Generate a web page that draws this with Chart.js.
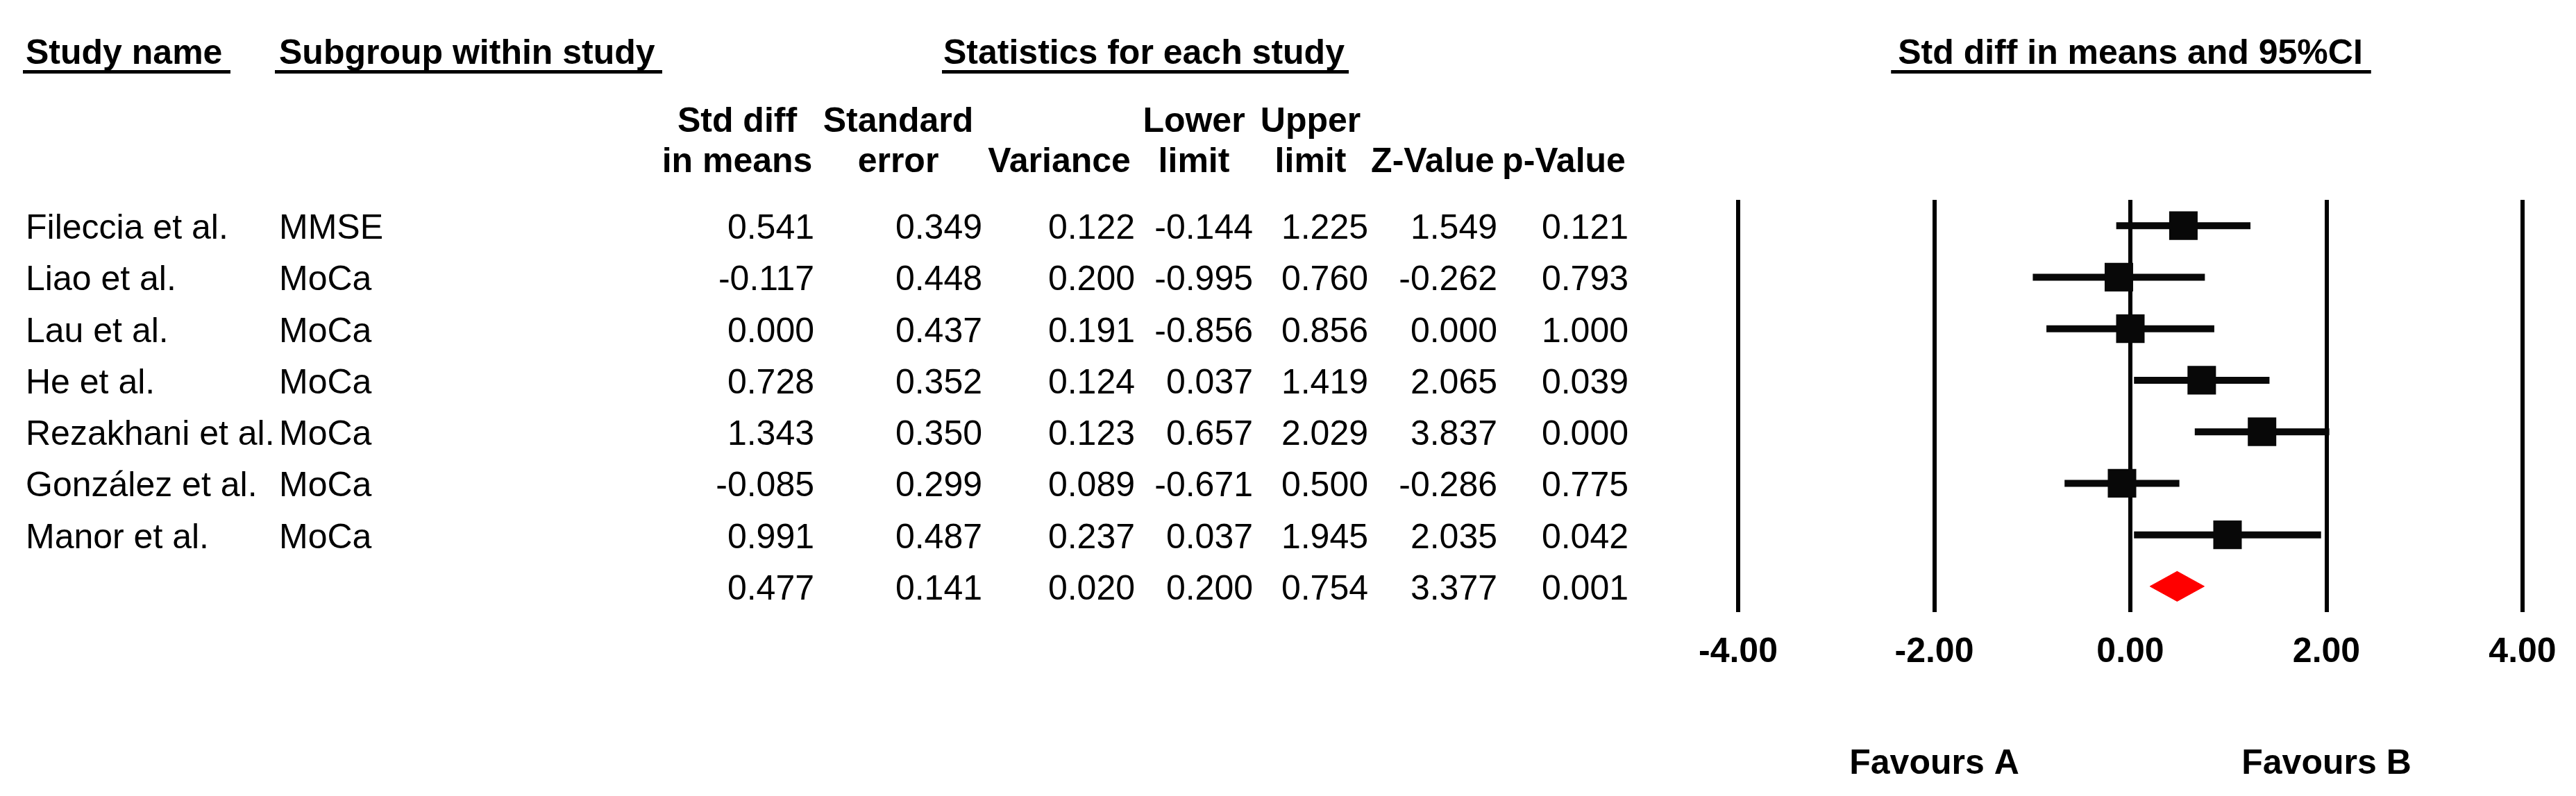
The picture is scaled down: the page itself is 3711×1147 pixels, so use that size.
<!DOCTYPE html>
<html>
<head>
<meta charset="utf-8">
<script src="https://cdn.jsdelivr.net/npm/chart.js@4.4.1/dist/chart.umd.min.js"></script>
<style>
  html, body { margin: 0; padding: 0; background: #fff; }
  canvas { display: block; }
</style>
</head>
<body>
<canvas id="forest" width="3711" height="1147"></canvas>
<script>
// study rows
const studyNames = ['Fileccia et al.', 'Liao et al.', 'Lau et al.', 'He et al.', 'Rezakhani et al.', 'González et al.', 'Manor et al.'];
const subgroups = ['MMSE', 'MoCa', 'MoCa', 'MoCa', 'MoCa', 'MoCa', 'MoCa'];
const stdDiff = [0.541, -0.117, 0.000, 0.728, 1.343, -0.085, 0.991];
const stdErr = [0.349, 0.448, 0.437, 0.352, 0.350, 0.299, 0.487];
const variance = [0.122, 0.200, 0.191, 0.124, 0.123, 0.089, 0.237];
const lowerLimit = [-0.144, -0.995, -0.856, 0.037, 0.657, -0.671, 0.037];
const upperLimit = [1.225, 0.760, 0.856, 1.419, 2.029, 0.500, 1.945];
const zValue = [1.549, -0.262, 0.000, 2.065, 3.837, -0.286, 2.035];
const pValue = [0.121, 0.793, 1.000, 0.039, 0.000, 0.775, 0.042];

// pooled row: std diff, SE, variance, lower, upper, Z, p
const pooledStats = [0.477, 0.141, 0.020, 0.200, 0.754, 3.377, 0.001];

const xTicks = [-4, -2, 0, 2, 4];
const favourLabels = ['Favours A', 'Favours B'];

const pooledRow = studyNames.length;
const DIAMOND_HALF = 0.29; // half height in row units

const BOLD = 'bold 50px "Liberation Sans", Arial, sans-serif';
const REG = '50px "Liberation Sans", Arial, sans-serif';

// CI whiskers, one line per study
const ciSets = studyNames.map((n, i) => ({
    type: 'line',
    data: [{ x: lowerLimit[i], y: i }, { x: upperLimit[i], y: i }],
    borderColor: '#080808',
    borderWidth: 10,
    borderCapStyle: 'butt',
    pointRadius: 0,
    order: 2
}));

const pooledDiamond = {
    type: 'line',
    data: [
        { x: pooledStats[3], y: pooledRow },
        { x: pooledStats[0], y: pooledRow - DIAMOND_HALF },
        { x: pooledStats[4], y: pooledRow },
        { x: pooledStats[0], y: pooledRow + DIAMOND_HALF },
        { x: pooledStats[3], y: pooledRow }
    ],
    borderColor: '#ff0000',
    backgroundColor: '#ff0000',
    borderWidth: 1,
    fill: 'shape',
    pointRadius: 0,
    tension: 0,
    order: 1
};

const squares = {
    type: 'scatter',
    data: stdDiff.map((v, i) => ({ x: v, y: i })),
    pointStyle: 'rect',
    pointRadius: 29,
    pointBorderWidth: 0,
    backgroundColor: '#080808',
    order: 0
};

function underlined(ctx, text, x, y, x0, x1) {
    ctx.fillText(text, x, y);
    ctx.fillRect(x0, y + 9, x1 - x0, 5);
}

const tablePlugin = {
    id: 'forestTable',
    afterDraw(chart) {
        const ctx = chart.ctx;
        const ys = chart.scales.y;
        const xs = chart.scales.x;
        ctx.save();
        ctx.fillStyle = '#000';
        ctx.textBaseline = 'alphabetic';

        // group headers
        ctx.font = BOLD;
        ctx.textAlign = 'left';
        underlined(ctx, 'Study name', 37, 92, 33, 332);
        underlined(ctx, 'Subgroup within study', 402, 92, 396, 954);
        underlined(ctx, 'Statistics for each study', 1359, 92, 1357, 1943);
        ctx.textAlign = 'center';
        const mid = xs.getPixelForValue(0);
        const tw = ctx.measureText('Std diff in means and 95%CI').width;
        underlined(ctx, 'Std diff in means and 95%CI', mid, 92, mid - tw / 2 - 10, mid + tw / 2 + 12);

        // column headers
        const heads = [
            ['Std diff', 'in means', 1062],
            ['Standard', 'error', 1294],
            ['', 'Variance', 1526],
            ['Lower', 'limit', 1720],
            ['Upper', 'limit', 1888],
            ['', 'Z-Value', 2064],
            ['', 'p-Value', 2253]
        ];
        heads.forEach(h => {
            if (h[0]) ctx.fillText(h[0], h[2], 190);
            ctx.fillText(h[1], h[2], 248);
        });

        // rows
        const colRight = [1173, 1415, 1635, 1805, 1971, 2157, 2346];
        const fmt = v => v.toFixed(3);
        ctx.font = REG;
        studyNames.forEach((name, i) => {
            const yy = ys.getPixelForValue(i) + 19;
            ctx.textAlign = 'left';
            ctx.fillText(name, 37, yy);
            ctx.fillText(subgroups[i], 402, yy);
            ctx.textAlign = 'right';
            const vals = [stdDiff[i], stdErr[i], variance[i], lowerLimit[i], upperLimit[i], zValue[i], pValue[i]];
            vals.forEach((v, c) => ctx.fillText(fmt(v), colRight[c], yy));
        });
        const py = ys.getPixelForValue(pooledRow) + 19;
        ctx.textAlign = 'right';
        pooledStats.forEach((v, c) => ctx.fillText(fmt(v), colRight[c], py));

        // favours labels
        ctx.font = BOLD;
        ctx.textAlign = 'center';
        ctx.fillText(favourLabels[0], xs.getPixelForValue(-2), 1115);
        ctx.fillText(favourLabels[1], xs.getPixelForValue(2), 1115);
        ctx.restore();
    }
};

new Chart(document.getElementById('forest'), {
    type: 'scatter',
    data: { datasets: [...ciSets, pooledDiamond, squares] },
    options: {
        responsive: false,
        devicePixelRatio: 1,
        animation: false,
        layout: { padding: { left: 2504, right: 77, top: 288, bottom: 177 } },
        plugins: { legend: { display: false }, tooltip: { enabled: false } },
        scales: {
            x: {
                type: 'linear',
                min: xTicks[0],
                max: xTicks[xTicks.length - 1],
                afterBuildTicks: axis => { axis.ticks = xTicks.map(v => ({ value: v })); },
                afterFit: axis => { axis.height = 88; },
                grid: { color: '#000', lineWidth: 6, drawTicks: false },
                border: { display: false },
                ticks: {
                    padding: 28,
                    color: '#000',
                    font: { family: '"Liberation Sans", Arial, sans-serif', size: 50, weight: 'bold' },
                    callback: v => v.toFixed(2)
                }
            },
            y: {
                type: 'linear',
                reverse: true,
                min: -0.5,
                max: pooledRow + 0.5,
                display: false
            }
        }
    },
    plugins: [tablePlugin]
});
</script>
</body>
</html>
